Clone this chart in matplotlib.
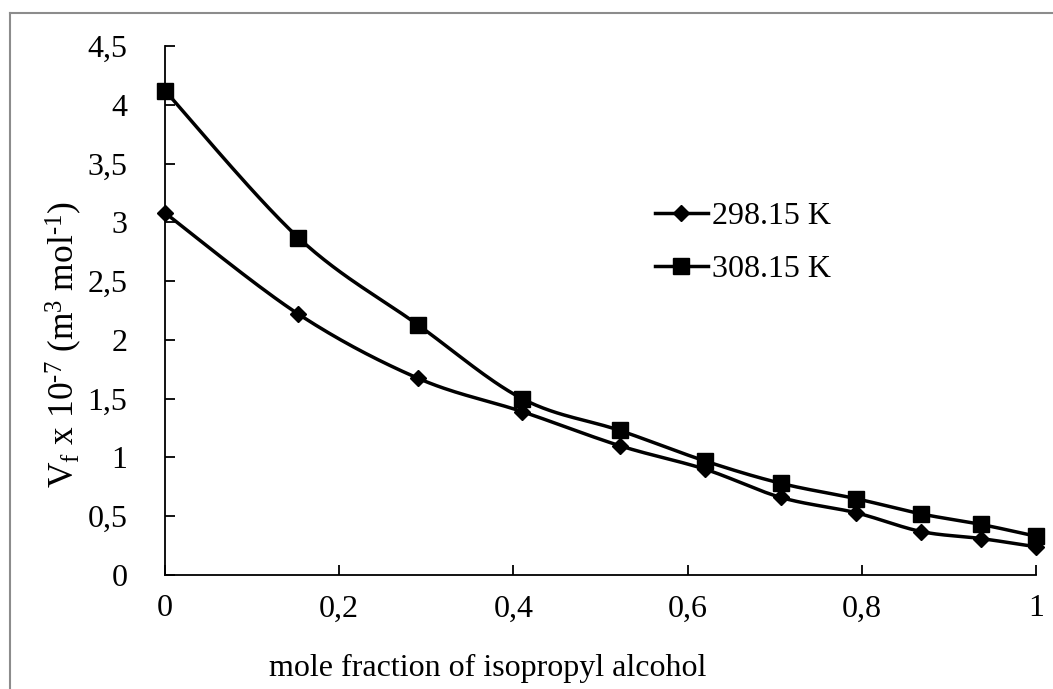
import numpy as np
import matplotlib
matplotlib.use("Agg")
import matplotlib.pyplot as plt
from matplotlib.lines import Line2D

x_frac = [0, 0.153, 0.29, 0.41, 0.522, 0.62, 0.707, 0.793, 0.868, 0.937, 1.0]
v_298 = [3.08, 2.22, 1.675, 1.39, 1.10, 0.90, 0.66, 0.53, 0.37, 0.31, 0.24]
v_308 = [4.12, 2.87, 2.13, 1.50, 1.23, 0.97, 0.78, 0.65, 0.52, 0.43, 0.33]
labels = ["298.15 K", "308.15 K"]
xticks = [0, 0.2, 0.4, 0.6, 0.8, 1.0]
xticklabels = ["0", "0,2", "0,4", "0,6", "0,8", "1"]
yticks = [0, 0.5, 1, 1.5, 2, 2.5, 3, 3.5, 4, 4.5]
yticklabels = ["0", "0,5", "1", "1,5", "2", "2,5", "3", "3,5", "4", "4,5"]

plt.rcParams['font.family'] = ['Liberation Serif', 'DejaVu Serif']
plt.rcParams['mathtext.fontset'] = 'custom'
plt.rcParams['mathtext.rm'] = 'Liberation Serif'
plt.rcParams['mathtext.it'] = 'Liberation Serif:italic'
plt.rcParams['mathtext.bf'] = 'Liberation Serif:bold'

FS = 23

def smooth(xs, ys, n=30):
    xs = np.asarray(xs, float); ys = np.asarray(ys, float)
    px = np.concatenate([[xs[0]], xs, [xs[-1]]])
    py = np.concatenate([[ys[0]], ys, [ys[-1]]])
    ox, oy = [], []
    t = np.linspace(0, 1, n)
    for i in range(1, len(px) - 2):
        p0 = np.array([px[i], py[i]]); p3 = np.array([px[i+1], py[i+1]])
        c1 = p0 + (np.array([px[i+1], py[i+1]]) - np.array([px[i-1], py[i-1]])) / 6
        c2 = p3 - (np.array([px[i+2], py[i+2]]) - np.array([px[i], py[i]])) / 6
        b = ((1-t)**3)[:, None]*p0 + (3*(1-t)**2*t)[:, None]*c1 + (3*(1-t)*t**2)[:, None]*c2 + (t**3)[:, None]*p3
        ox.extend(b[:, 0]); oy.extend(b[:, 1])
    return np.array(ox), np.array(oy)

fig = plt.figure(figsize=(10.53, 6.89), dpi=100)
ax = fig.add_axes([165/1053, 1-575/689, (1036-165)/1053, (575-46)/689])

lw = 2.5
sx, sy = smooth(x_frac, v_298)
ax.plot(sx, sy, color='black', lw=lw, clip_on=False, zorder=3)
ax.plot(x_frac, v_298, linestyle='none', marker='D', ms=8, color='black', clip_on=False, zorder=4)
sx, sy = smooth(x_frac, v_308)
ax.plot(sx, sy, color='black', lw=lw, clip_on=False, zorder=3)
ax.plot(x_frac, v_308, linestyle='none', marker='s', ms=11, color='black', clip_on=False, zorder=4)

ax.set_xlim(0, 1)
ax.set_ylim(0, 4.5)
ax.set_xticks(xticks)
ax.set_xticklabels(xticklabels, fontsize=FS)
ax.set_yticks(yticks)
ax.set_yticklabels(yticklabels, fontsize=FS)
for s in ['top', 'right']:
    ax.spines[s].set_visible(False)
for s in ['left', 'bottom']:
    ax.spines[s].set_linewidth(1.3)
ax.tick_params(direction='in', length=7, width=1.3)
ax.tick_params(axis='x', pad=14)
ax.tick_params(axis='y', pad=27)

handles = [Line2D([], [], color='black', lw=lw, marker='D', ms=8),
           Line2D([], [], color='black', lw=lw, marker='s', ms=11)]
fig.legend(handles, labels, loc='center left', bbox_to_anchor=(655/1053, 1-243/689),
           frameon=False, fontsize=FS, handlelength=1.65, handletextpad=0.15,
           labelspacing=0.75, borderpad=0, borderaxespad=0)

fig.text(488/1053, 1-668/689, "mole fraction of isopropyl alcohol", fontsize=FS,
         ha='center', va='center')
fig.text(64/1053, 1-344/689,
         "V$_\\mathrm{f}$ x 10$^{\\mathrm{\u20107}}$ (m$^{\\mathrm{3}}$ mol$^{\\mathrm{\u20101}}$)",
         fontsize=25.5, rotation=90, ha='center', va='center')

fig.add_artist(Line2D([10/1053, 10/1053], [0, 1-13/689], color='#8c8c8c', lw=1.5,
                      transform=fig.transFigure))
fig.add_artist(Line2D([10/1053, 1], [1-13/689, 1-13/689], color='#8c8c8c', lw=1.5,
                      transform=fig.transFigure))

fig.savefig("out.png", dpi=100)
